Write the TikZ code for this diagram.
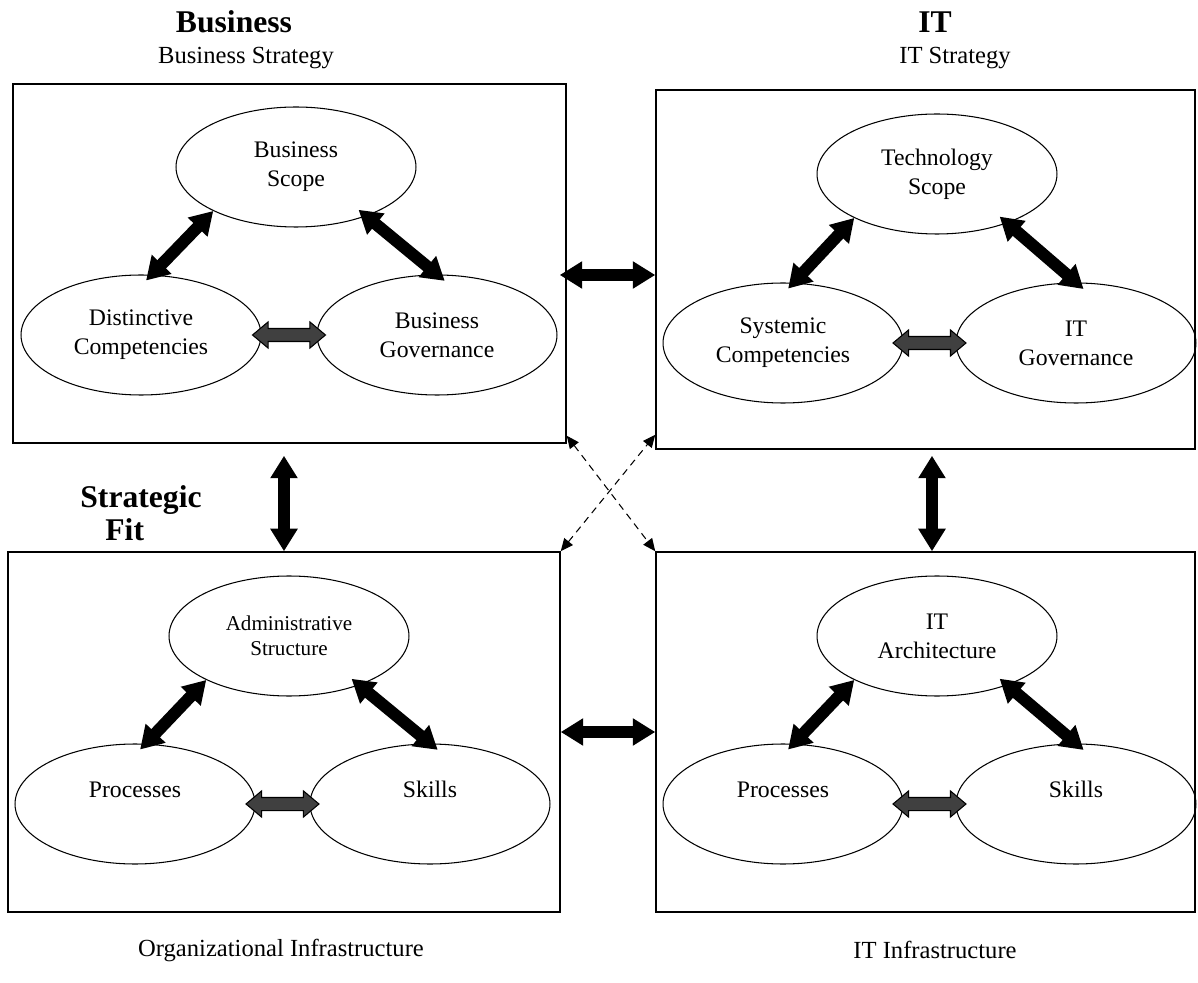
\documentclass[tikz,border=0pt]{standalone}
\usepackage{fontspec}
\setmainfont{Liberation Serif}
\usetikzlibrary{shapes.geometric,shapes.arrows,arrows.meta}

\begin{document}
\begin{tikzpicture}[x=0.02cm, y=-0.02cm,
    panel/.style={draw, line width=0.9pt, inner sep=0pt},
    ell/.style={ellipse, draw, line width=0.6pt, minimum width=4.8cm, minimum height=2.4cm, inner sep=0pt, align=center, font=\fontsize{13.5}{16.5}\selectfont},
    bigarrow/.style={line width=0.24cm, {Triangle[length=0.45cm,width=0.52cm]}-{Triangle[length=0.45cm,width=0.52cm]}},
    grayarrow/.style={double arrow, draw, fill=black!75, line width=0.6pt, minimum height=1.46cm, inner xsep=0pt, inner ysep=0.12cm, double arrow head extend=0.13cm, double arrow tip angle=80},
    crossarrow/.style={dash pattern=on 4pt off 3pt, line width=0.6pt, {Triangle[length=0.25cm,width=0.22cm]}-{Triangle[length=0.25cm,width=0.22cm]}},
    heading/.style={font=\fontsize{18}{19}\selectfont\bfseries},
    caption/.style={font=\fontsize{14}{16}\selectfont}
]
    \useasboundingbox (0,0) rectangle (1198,983);

    % Headings
    \node[heading] (bizhead) at (234,22) {Business};
    \node[caption] (bizstrat) at (246,58) {Business Strategy};
    \node[heading] (ithead) at (935,22) {IT};
    \node[caption] (itstrat) at (955,58) {IT Strategy};
    \node[heading, align=left] (fit) at (141,513) {Strategic\\\hspace*{0.5cm}Fit};
    \node[caption] (orginfra) at (281,950) {Organizational Infrastructure};
    \node[caption] (itinfra) at (935,950) {IT Infrastructure};

    % Panels
    \node[panel, minimum width=11.06cm, minimum height=7.18cm] (tlbox) at (289.5,263.5) {};
    \node[panel, minimum width=10.78cm, minimum height=7.18cm] (trbox) at (925.5,269.5) {};
    \node[panel, minimum width=11.04cm, minimum height=7.2cm] (blbox) at (284,732) {};
    \node[panel, minimum width=10.78cm, minimum height=7.2cm] (brbox) at (925.5,732) {};

    % Business strategy
    \node[ell] (bs) at (296,167) {Business\\Scope};
    \node[ell] (dc) at (141,335) {Distinctive\\Competencies};
    \node[ell] (bg) at (437,335) {Business\\Governance};
    \draw[bigarrow, shorten >=-0.16cm] (bs.-152) -- (dc.80);
    \draw[bigarrow, shorten <=-0.2cm, shorten >=-0.2cm] (bs.-35) -- (bg.90);
    \path (dc.east) -- (bg.west) node[midway, grayarrow] (g1) {};

    % IT strategy
    \node[ell] (ts) at (937,174) {Technology\\Scope};
    \node[ell] (sc) at (783,343) {Systemic\\Competencies};
    \node[ell] (itg) at (1076,343) {IT\\Governance};
    \draw[bigarrow, shorten >=-0.16cm] (ts.-152) -- (sc.80);
    \draw[bigarrow, shorten <=-0.2cm, shorten >=-0.2cm] (ts.-35) -- (itg.90);
    \path (sc.east) -- (itg.west) node[midway, grayarrow] (g2) {};

    % Organizational infrastructure
    \node[ell, font=\fontsize{12}{14.5}\selectfont] (as) at (289,636) {Administrative\\Structure};
    \node[ell] (pl) at (135,804) {Processes\\\mbox{}};
    \node[ell] (sl) at (430,804) {Skills\\\mbox{}};
    \draw[bigarrow, shorten >=-0.16cm] (as.-152) -- (pl.80);
    \draw[bigarrow, shorten <=-0.2cm, shorten >=-0.2cm] (as.-35) -- (sl.90);
    \path (pl.east) -- (sl.west) node[midway, grayarrow] (g3) {};

    % IT infrastructure
    \node[ell] (ia) at (937,636) {IT\\Architecture};
    \node[ell] (pr) at (783,804) {Processes\\\mbox{}};
    \node[ell] (sr) at (1076,804) {Skills\\\mbox{}};
    \draw[bigarrow, shorten >=-0.16cm] (ia.-152) -- (pr.80);
    \draw[bigarrow, shorten <=-0.2cm, shorten >=-0.2cm] (ia.-35) -- (sr.90);
    \path (pr.east) -- (sr.west) node[midway, grayarrow] (g4) {};

    % Links between panels
    \draw[bigarrow, shorten <=-0.14cm] (tlbox.east |- 0,275) -- (trbox.west |- 0,275);
    \draw[bigarrow] (blbox.east) -- (brbox.west);
    \draw[bigarrow, shorten <=0.24cm] (tlbox.south -| blbox.north) -- (blbox.north);
    \draw[bigarrow, shorten <=0.12cm] ([xshift=0.13cm]trbox.south) -- ([xshift=0.13cm]brbox.north);
    \draw[crossarrow] ([yshift=0.16cm]tlbox.south east) -- (brbox.north west);
    \draw[crossarrow] (blbox.north east) -- ([yshift=0.3cm]trbox.south west);
\end{tikzpicture}
\end{document}
